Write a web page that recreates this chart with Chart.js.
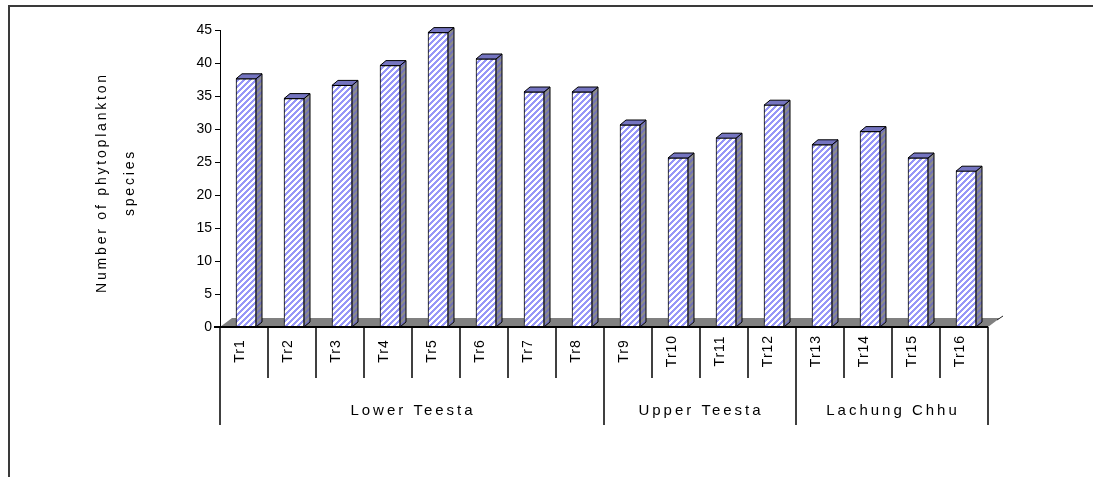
<!DOCTYPE html>
<html>
<head>
<meta charset="utf-8">
<script src="https://cdn.jsdelivr.net/npm/chart.js@4/dist/chart.umd.min.js"></script>
<style>
  html, body { margin: 0; padding: 0; background: #fff; }
  #wrap { width: 1093px; height: 477px; position: relative; }
</style>
</head>
<body>
<div id="wrap"><canvas id="chart" width="1093" height="477"></canvas></div>
<script>
// data
const categories = ['Tr1', 'Tr2', 'Tr3', 'Tr4', 'Tr5', 'Tr6', 'Tr7', 'Tr8',
  'Tr9', 'Tr10', 'Tr11', 'Tr12', 'Tr13', 'Tr14', 'Tr15', 'Tr16'];
const speciesCount = [37, 34, 36, 39, 44, 40, 35, 35, 30, 25, 28, 33, 27, 29, 25, 23];
const groupNames = ['Lower Teesta', 'Upper Teesta', 'Lachung Chhu'];
const groupSizes = [8, 4, 4];
const yTitle = ['Number of phytoplankton', 'species'];
const yMin = 0, yMax = 45, yStep = 5;

const FONT = '"Liberation Sans", Arial, sans-serif';

// diagonal hatch fill, like the old excel pattern
function makeHatch(c1, c2) {
  const size = 6;
  const cv = document.createElement('canvas');
  cv.width = size; cv.height = size;
  const g = cv.getContext('2d');
  g.fillStyle = c2;
  g.fillRect(0, 0, size, size);
  g.fillStyle = c1;
  for (let y = 0; y < size; y++) {
    for (let x = 0; x < size; x++) {
      if ((x + y) % size < 3) g.fillRect(x, y, 1, 1);
    }
  }
  return g.createPattern(cv, 'repeat');
}

const ctx = document.getElementById('chart').getContext('2d');
const frontFill = makeHatch('#9797f7', '#ffffff');
const sideFill = makeHatch('#7474b4', '#8c8c8c');

// 3d look: depth of bars and floor
const SHIFT_X = 2, SHIFT_Y = -4;
const BAR_DX = 6, BAR_DY = -5;
const FLOOR_DX = 12, FLOOR_DY = -9;

const look3d = {
  id: 'look3d',
  beforeDraw(chart) {
    const c = chart.ctx;
    c.save();
    c.strokeStyle = '#3a3a3a';
    c.lineWidth = 2;
    c.strokeRect(9, 6, 2000, 2000);
    c.restore();
  },
  beforeDatasetsDraw(chart) {
    const c = chart.ctx;
    const a = chart.chartArea;
    // floor
    c.save();
    c.fillStyle = '#808080';
    c.beginPath();
    c.moveTo(a.left, a.bottom);
    c.lineTo(a.right, a.bottom);
    c.lineTo(a.right + FLOOR_DX, a.bottom + FLOOR_DY);
    c.lineTo(a.left + FLOOR_DX, a.bottom + FLOOR_DY);
    c.closePath();
    c.fill();
    c.strokeStyle = '#222';
    c.lineWidth = 1;
    c.beginPath();
    c.moveTo(a.right + FLOOR_DX - 3, a.bottom + FLOOR_DY + 2);
    c.lineTo(a.right + FLOOR_DX + 3, a.bottom + FLOOR_DY - 2);
    c.stroke();
    c.restore();

    c.save();
    c.translate(SHIFT_X, SHIFT_Y);
    // side + top faces of each bar
    const meta = chart.getDatasetMeta(0);
    meta.data.forEach(bar => {
      const p = bar.getProps(['x', 'y', 'base', 'width'], true);
      const l = p.x - p.width / 2, r = p.x + p.width / 2;
      c.lineWidth = 1;
      c.strokeStyle = '#000';
      c.fillStyle = sideFill;
      c.beginPath();
      c.moveTo(r, p.y);
      c.lineTo(r + BAR_DX, p.y + BAR_DY);
      c.lineTo(r + BAR_DX, p.base + BAR_DY);
      c.lineTo(r, p.base);
      c.closePath();
      c.fill();
      c.stroke();
      c.fillStyle = '#7474c0';
      c.beginPath();
      c.moveTo(l, p.y);
      c.lineTo(l + BAR_DX, p.y + BAR_DY);
      c.lineTo(r + BAR_DX, p.y + BAR_DY);
      c.lineTo(r, p.y);
      c.closePath();
      c.fill();
      c.stroke();
    });
  },
  afterDatasetsDraw(chart) {
    chart.ctx.restore();
  },
  afterDraw(chart) {
    const c = chart.ctx;
    const a = chart.chartArea;
    const xs = chart.scales.x;
    const slot = (a.right - a.left) / categories.length;
    const rowBottom = a.bottom + 51;
    const groupBottom = a.bottom + 98;

    c.save();
    c.strokeStyle = '#000';
    c.lineWidth = 2;
    c.beginPath();
    c.moveTo(a.left - 6, a.bottom);
    c.lineTo(a.right, a.bottom);
    c.stroke();

    // separators
    const groupEdges = [0];
    groupSizes.reduce((s, n) => { groupEdges.push(s + n); return s + n; }, 0);
    c.lineWidth = 1.5;
    for (let i = 0; i <= categories.length; i++) {
      const x = Math.round(a.left + i * slot);
      const bottom = groupEdges.includes(i) ? groupBottom : rowBottom;
      c.beginPath();
      c.moveTo(x, a.bottom);
      c.lineTo(x, bottom);
      c.stroke();
    }

    // category labels, rotated
    c.fillStyle = '#000';
    c.font = '14px ' + FONT;
    c.letterSpacing = '1px';
    c.textAlign = 'center';
    c.textBaseline = 'middle';
    categories.forEach((label, i) => {
      const x = xs.getPixelForValue(i) - 4;
      c.save();
      c.translate(x, a.bottom + 24);
      c.rotate(-Math.PI / 2);
      c.fillText(label, 0, 0);
      c.restore();
    });

    // group labels
    c.font = '15px ' + FONT;
    c.letterSpacing = '3px';
    groupNames.forEach((name, g) => {
      const x = a.left + (groupEdges[g] + groupEdges[g + 1]) / 2 * slot;
      c.fillText(name, x + 1, a.bottom + 84);
    });

    // y axis title
    c.font = '14px ' + FONT;
    c.letterSpacing = '2.8px';
    const midY = (a.top + a.bottom) / 2 + 4;
    yTitle.forEach((line, i) => {
      c.save();
      c.translate(102 + i * 28, midY);
      c.rotate(-Math.PI / 2);
      c.fillText(line, 0, 0);
      c.restore();
    });
    c.restore();
  }
};

new Chart(ctx, {
  type: 'bar',
  data: {
    labels: categories,
    datasets: [{
      data: speciesCount,
      base: -0.6,
      backgroundColor: frontFill,
      borderColor: '#000',
      borderWidth: 1,
      borderSkipped: false,
      barThickness: 20,
      clip: false,
    }],
  },
  options: {
    responsive: false,
    animation: false,
    events: [],
    layout: {
      padding: { top: 30, bottom: 150, left: 0, right: 105 },
    },
    plugins: {
      legend: { display: false },
      tooltip: { enabled: false },
    },
    scales: {
      x: {
        display: false,
      },
      y: {
        min: yMin,
        max: yMax,
        afterFit(scale) { scale.width = 220; },
        ticks: {
          stepSize: yStep,
          color: '#000',
          padding: 3,
          font: { family: FONT, size: 14 },
        },
        grid: {
          drawOnChartArea: false,
          drawTicks: true,
          tickLength: 5,
          color: '#000',
        },
        border: { display: true, color: '#000', width: 1 },
      },
    },
  },
  plugins: [look3d],
});
</script>
</body>
</html>
